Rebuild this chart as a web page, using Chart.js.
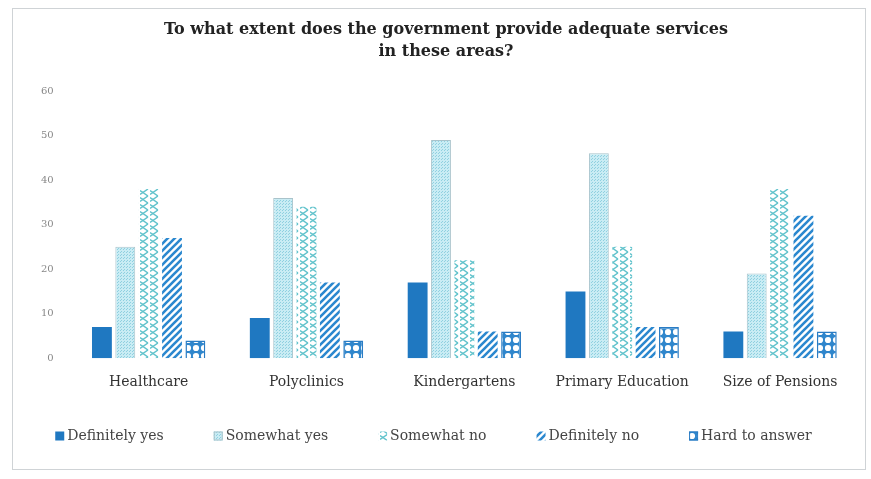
<!DOCTYPE html>
<html>
<head>
<meta charset="utf-8">
<script src="https://cdn.jsdelivr.net/npm/chart.js@4.4.0/dist/chart.umd.min.js"></script>
<style>
  html, body { margin: 0; padding: 0; background: #fff; }
  #wrap { position: relative; width: 871px; height: 479px; }
  #frame { position: absolute; left: 12px; top: 8px; width: 854px; height: 462px; border: 1px solid #cfd3d6; box-sizing: border-box; }
  #c { position: absolute; left: 0; top: 0; }
</style>
</head>
<body>
<div id="wrap">
  <div id="frame"></div>
  <canvas id="c" width="871" height="479"></canvas>
</div>
<script>
const categories = ['Healthcare', 'Polyclinics', 'Kindergartens', 'Primary Education', 'Size of Pensions'];
const seriesNames = ['Definitely yes', 'Somewhat yes', 'Somewhat no', 'Definitely no', 'Hard to answer'];
const definitelyYes = [7, 9, 17, 15, 6];
const somewhatYes = [25, 36, 49, 46, 19];
const somewhatNo = [38, 34, 22, 25, 38];
const definitelyNo = [27, 17, 6, 7, 32];
const hardToAnswer = [4, 4, 6, 7, 6];
const yTicks = [0, 10, 20, 30, 40, 50, 60];

function tile(w, h, draw) {
    const cv = document.createElement('canvas');
    cv.width = w; cv.height = h;
    const g = cv.getContext('2d');
    draw(g);
    return document.getElementById('c').getContext('2d').createPattern(cv, 'repeat');
}

// fine dotted light cyan
const dotted = tile(3, 3, g => {
    g.fillStyle = '#c9ecf4';
    g.fillRect(0, 0, 3, 3);
    g.fillStyle = '#8fd0e0';
    g.fillRect(0, 0, 1, 1);
    g.fillRect(1, 2, 1, 1);
});

// chevron chain in teal
const zigzag = tile(10, 7, g => {
    g.fillStyle = '#ffffff';
    g.fillRect(0, 0, 10, 7);
    g.strokeStyle = '#62c3cc';
    g.lineWidth = 1.5;
    g.beginPath();
    g.moveTo(8, 0); g.lineTo(3, 3.5); g.lineTo(8, 7);
    g.moveTo(3, 3.5); g.lineTo(0, 1.5);
    g.moveTo(3, 3.5); g.lineTo(0, 5.5);
    g.stroke();
});

// diagonal stripes
const stripes = tile(7, 7, g => {
    g.fillStyle = '#ffffff';
    g.fillRect(0, 0, 7, 7);
    g.strokeStyle = '#2b88cf';
    g.lineWidth = 2.6;
    g.beginPath();
    g.moveTo(-1, 8); g.lineTo(8, -1);
    g.moveTo(-4, 4); g.lineTo(4, -4);
    g.moveTo(3, 11); g.lineTo(11, 3);
    g.stroke();
});

// blue with white circles
const circles = tile(8, 8, g => {
    g.fillStyle = '#2f86cc';
    g.fillRect(0, 0, 8, 8);
    g.fillStyle = '#ffffff';
    g.beginPath();
    g.arc(4, 4, 3.1, 0, Math.PI * 2);
    g.fill();
});

const fills = ['#1f78c1', dotted, zigzag, stripes, circles];
const borders = ['#1f78c1', '#a9c3cb', '#ffffff', '#ffffff', '#2a7cc4'];
const borderW = [0, 1, 0, 0, 1.5];
const values = [definitelyYes, somewhatYes, somewhatNo, definitelyNo, hardToAnswer];

const serif = "'DejaVu Serif', 'Liberation Serif', serif";

// one-row legend with wide gaps, the built-in one wraps at this spacing
const rowLegend = {
    id: 'rowLegend',
    afterDraw(chart) {
        const ctx = chart.ctx;
        const sets = chart.data.datasets;
        const box = 9, gap = 3, space = 50;
        const y = chart.height - 43;
        ctx.save();
        ctx.font = '14px ' + serif;
        ctx.textBaseline = 'middle';
        const widths = sets.map(ds => ctx.measureText(ds.label).width);
        const total = widths.reduce((a, w) => a + box + gap + w, 0) + space * (sets.length - 1);
        let x = (chart.width - total) / 2 - 2;
        sets.forEach((ds, i) => {
            ctx.fillStyle = ds.backgroundColor;
            ctx.fillRect(x, y - box / 2, box, box);
            if (ds.borderWidth) {
                ctx.strokeStyle = ds.borderColor;
                ctx.lineWidth = 1;
                ctx.strokeRect(x + 0.5, y - box / 2 + 0.5, box - 1, box - 1);
            }
            ctx.fillStyle = '#444';
            ctx.fillText(ds.label, x + box + gap, y);
            x += box + gap + widths[i] + space;
        });
        ctx.restore();
    }
};

new Chart(document.getElementById('c'), {
    type: 'bar',
    data: {
        labels: categories,
        datasets: seriesNames.map((name, i) => ({
            label: name,
            data: values[i],
            backgroundColor: fills[i],
            borderColor: borders[i],
            borderWidth: borderW[i],
            categoryPercentage: 0.74,
            barPercentage: 0.85
        }))
    },
    options: {
        responsive: false,
        animation: false,
        layout: { padding: { left: 33, right: 12, top: 10, bottom: 80 } },
        plugins: {
            title: {
                display: true,
                text: ['To what extent does the government provide adequate services', 'in these areas?'],
                font: { family: serif, size: 16, weight: 'bold', lineHeight: 1.375 },
                color: '#222',
                padding: { top: 9, bottom: 28 }
            },
            legend: { display: false },
            tooltip: { enabled: false }
        },
        scales: {
            x: {
                grid: { display: false },
                border: { display: false },
                ticks: { font: { family: serif, size: 14 }, color: '#333', padding: 8 }
            },
            y: {
                min: 0,
                max: 60,
                afterBuildTicks: axis => { axis.ticks = yTicks.map(v => ({ value: v })); },
                grid: { display: false },
                border: { display: false },
                ticks: { font: { family: serif, size: 10 }, color: '#888', padding: 8 }
            }
        }
    },
    plugins: [rowLegend]
});
</script>
</body>
</html>
